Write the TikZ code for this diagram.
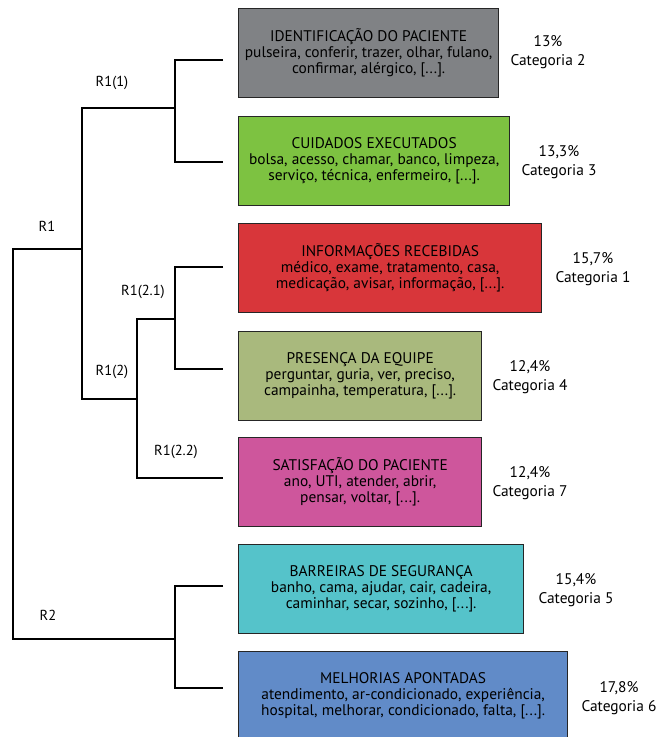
\documentclass[tikz,border=0pt]{standalone}
\usepackage{fontspec}
\setmainfont{PT Sans}
\definecolor{cinza}{HTML}{808285}
\definecolor{verde}{HTML}{7DC241}
\definecolor{vermelho}{HTML}{D8363A}
\definecolor{oliva}{HTML}{A9B97D}
\definecolor{rosa}{HTML}{CE569C}
\definecolor{ciano}{HTML}{55C3CA}
\definecolor{azul}{HTML}{618BC8}
\tikzset{
  classe/.style={draw=black!85, line width=1.3pt, anchor=north west, minimum height=89pt,
    align=center, inner sep=0pt, font=\fontsize{15.4}{16}\selectfont},
  perc/.style={align=center, font=\fontsize{15.4}{19}\selectfont},
  ramo/.style={font=\fontsize{14.5}{16}\selectfont},
  arvore/.style={line width=1.4pt}
}
\begin{document}
\begin{tikzpicture}[x=1pt,y=-1pt]
\useasboundingbox (0,0) rectangle (672,737);
% classes
\node[classe, fill=cinza, minimum width=260pt] (c2) at (238,8) {IDENTIFICAÇÃO DO PACIENTE\\pulseira, conferir, trazer, olhar, fulano,\\confirmar, alérgico, [...].};
\node[classe, fill=verde, minimum width=271pt] (c3) at (238,116) {CUIDADOS EXECUTADOS\\bolsa, acesso, chamar, banco, limpeza,\\serviço, técnica, enfermeiro, [...].};
\node[classe, fill=vermelho, minimum width=303pt] (c1) at (238,223) {INFORMAÇÕES RECEBIDAS\\médico, exame, tratamento, casa,\\medicação, avisar, informação, [...].};
\node[classe, fill=oliva, minimum width=243pt] (c4) at (238,331) {PRESENÇA DA EQUIPE\\perguntar, guria, ver, preciso,\\campainha, temperatura, [...].};
\node[classe, fill=rosa, minimum width=243pt] (c7) at (238,437) {SATISFAÇÃO DO PACIENTE\\ano, UTI, atender, abrir,\\pensar, voltar, [...].};
\node[classe, fill=ciano, minimum width=285pt] (c5) at (238,544) {BARREIRAS DE SEGURANÇA\\banho, cama, ajudar, cair, cadeira,\\caminhar, secar, sozinho, [...].};
\node[classe, fill=azul, minimum width=329pt] (c6) at (238,651) {MELHORIAS APONTADAS\\atendimento, ar-condicionado, experiência,\\hospital, melhorar, condicionado, falta, [...].};
% percentuais
\node[perc] (p2) at (548,52) {13\%\\Categoria 2};
\node[perc] (p3) at (559,162) {13,3\%\\Categoria 3};
\node[perc] (p1) at (593,269) {15,7\%\\Categoria 1};
\node[perc] (p4) at (530,377) {12,4\%\\Categoria 4};
\node[perc] (p7) at (530,483) {12,4\%\\Categoria 7};
\node[perc] (p5) at (576,590) {15,4\%\\Categoria 5};
\node[perc] (p6) at (619,698) {17,8\%\\Categoria 6};
% folhas e nos
\coordinate (f2) at (223,60);
\coordinate (f3) at (223,162);
\coordinate (f1) at (223,267);
\coordinate (f4) at (223,369);
\coordinate (f7) at (223,478);
\coordinate (f5) at (223,586);
\coordinate (f6) at (223,688);
\coordinate (n11) at (175,108);
\coordinate (n121) at (175,319);
\coordinate (n12) at (137,399);
\coordinate (n1) at (82,249);
\coordinate (n2) at (175,639);
\coordinate (n0) at (13,444);
\draw[arvore] (f2) -| (n11) |- (f3);
\draw[arvore] (f1) -| (n121) |- (f4);
\draw[arvore] (n121) -| (n12) |- (f7);
\draw[arvore] (n11) -| (n1) |- (n12);
\draw[arvore] (f5) -| (n2) |- (f6);
\draw[arvore] (n1) -| (n0) |- (n2);
% rotulos
\node[ramo] (r11) at (112,83) {R1(1)};
\node[ramo] (r1) at (47,226) {R1};
\node[ramo] (r121) at (143,292) {R1(2.1)};
\node[ramo] (r12) at (112,372) {R1(2)};
\node[ramo] (r122) at (176,452) {R1(2.2)};
\node[ramo] (r2) at (48,615) {R2};
\end{tikzpicture}
\end{document}
